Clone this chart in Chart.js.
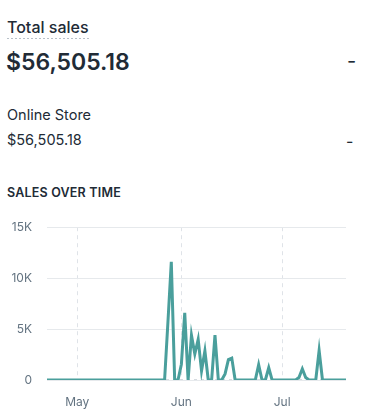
<!DOCTYPE html>
<html>
<head>
<meta charset="utf-8">
<script src="https://cdn.jsdelivr.net/npm/chart.js@4"></script>
<style>
  html, body { margin: 0; padding: 0; background: #fff; }
  body { width: 370px; height: 418px; position: relative; overflow: hidden;
         font-family: Inter, "Noto Sans", sans-serif; color: #212b36; }
  .t { position: absolute; white-space: nowrap; }
  #title { left: 7px; top: 17px; font-size: 16px; line-height: 20px; font-weight: 500; }
  #dots { position: absolute; left: 7px; top: 38px; width: 82px; height: 1px;
          background: repeating-linear-gradient(90deg, #b8c0c8 0 2px, transparent 2px 4px); }
  #total { left: 6px; top: 47px; font-size: 23px; line-height: 30px; font-weight: 600; }
  #dash1 { left: 347px; top: 48px; font-size: 20px; line-height: 26px; }
  #store { left: 7px; top: 105px; font-size: 14.5px; line-height: 20px; }
  #storeVal { left: 7px; top: 130px; font-size: 14.5px; line-height: 20px; }
  #dash2 { left: 346px; top: 130px; font-size: 16px; line-height: 22px; }
  #sot { left: 7px; top: 185px; font-size: 12.5px; line-height: 16px; font-weight: 600; letter-spacing: 0.2px; }
  #wrap { position: absolute; left: 0; top: 205px; width: 370px; height: 213px; }
</style>
</head>
<body>
<div class="t" id="title">Total sales</div>
<div id="dots"></div>
<div class="t" id="total">$56,505.18</div>
<div class="t" id="dash1">-</div>
<div class="t" id="store">Online Store</div>
<div class="t" id="storeVal">$56,505.18</div>
<div class="t" id="dash2">-</div>
<div class="t" id="sot">SALES OVER TIME</div>
<div id="wrap"><canvas id="chart"></canvas></div>
<script>
// daily sales, Apr 22 -> Jul 20
const startDate = '2018-04-22';
const sales = [
  0, 0, 0, 0, 0, 0, 0, 0, 0,            // Apr 22-30
  0, 0, 0, 0, 0, 0, 0, 0, 0, 0,         // May 1-10
  0, 0, 0, 0, 0, 0, 0, 0, 0, 0,         // May 11-20
  0, 0, 0, 0, 0, 0, 0, 5700, 11600, 0, 0, // May 21-31
  1550, 6600, 0, 4400, 2550, 4000, 900, 2850, 0, 0, // Jun 1-10
  4400, 0, 0, 600, 2000, 2150, 0, 0, 0, 0,          // Jun 11-20
  0, 0, 0, 1500, 0, 0, 1200, 0, 0, 0,               // Jun 21-30
  0, 0, 0, 0, 0, 250, 1100, 250, 0, 0,              // Jul 1-10
  0, 2900, 0, 0, 0, 0, 0, 0, 0, 0                   // Jul 11-20
];
const previous = sales.map(() => 0);
const monthNames = ['Jan','Feb','Mar','Apr','May','Jun','Jul','Aug','Sep','Oct','Nov','Dec'];
const yTicks = [0, 5000, 10000, 15000];

const dates = [];
const d0 = new Date(startDate + 'T00:00:00');
for (let i = 0; i < sales.length; i++) {
  const d = new Date(d0);
  d.setDate(d0.getDate() + i);
  dates.push(d);
}
const labels = dates.map(d => monthNames[d.getMonth()] + ' ' + d.getDate());

const tickFont = { family: 'Inter, "Noto Sans", sans-serif', size: 12 };

new Chart(document.getElementById('chart'), {
  type: 'line',
  data: {
    labels: labels,
    datasets: [{
      data: sales,
      borderColor: '#4a9f9c',
      borderWidth: 3,
      pointRadius: 0,
      tension: 0,
      fill: false
    }, {
      data: previous,
      borderColor: '#c9d0d6',
      borderWidth: 1.5,
      borderDash: [3, 4],
      pointRadius: 0,
      fill: false
    }]
  },
  options: {
    responsive: true,
    maintainAspectRatio: false,
    animation: false,
    layout: { padding: { top: 21, right: 24, left: 0, bottom: 0 } },
    plugins: { legend: { display: false }, tooltip: { enabled: false } },
    scales: {
      x: {
        offset: false,
        grid: { drawTicks: false, color: '#dfe3e8', borderDash: [4, 4] },
        border: { display: false, dash: [4, 4] },
        ticks: {
          autoSkip: false, maxRotation: 0, padding: 15,
          color: '#637381', font: tickFont,
          callback: function (v, i) {
            const d = dates[i];
            return d.getDate() === 1 ? monthNames[d.getMonth()] : null;
          }
        },
        afterFit: s => { s.height = 38; }
      },
      y: {
        min: 0, max: 15000,
        afterBuildTicks: s => { s.ticks = yTicks.map(v => ({ value: v })); },
        grid: { drawTicks: false, color: '#e6e9ec' },
        border: { display: false },
        ticks: {
          padding: 15, color: '#637381', font: tickFont,
          callback: v => v === 0 ? '0' : (v / 1000) + 'K'
        },
        afterFit: s => { s.width = 47; }
      }
    }
  }
});
</script>
</body>
</html>
